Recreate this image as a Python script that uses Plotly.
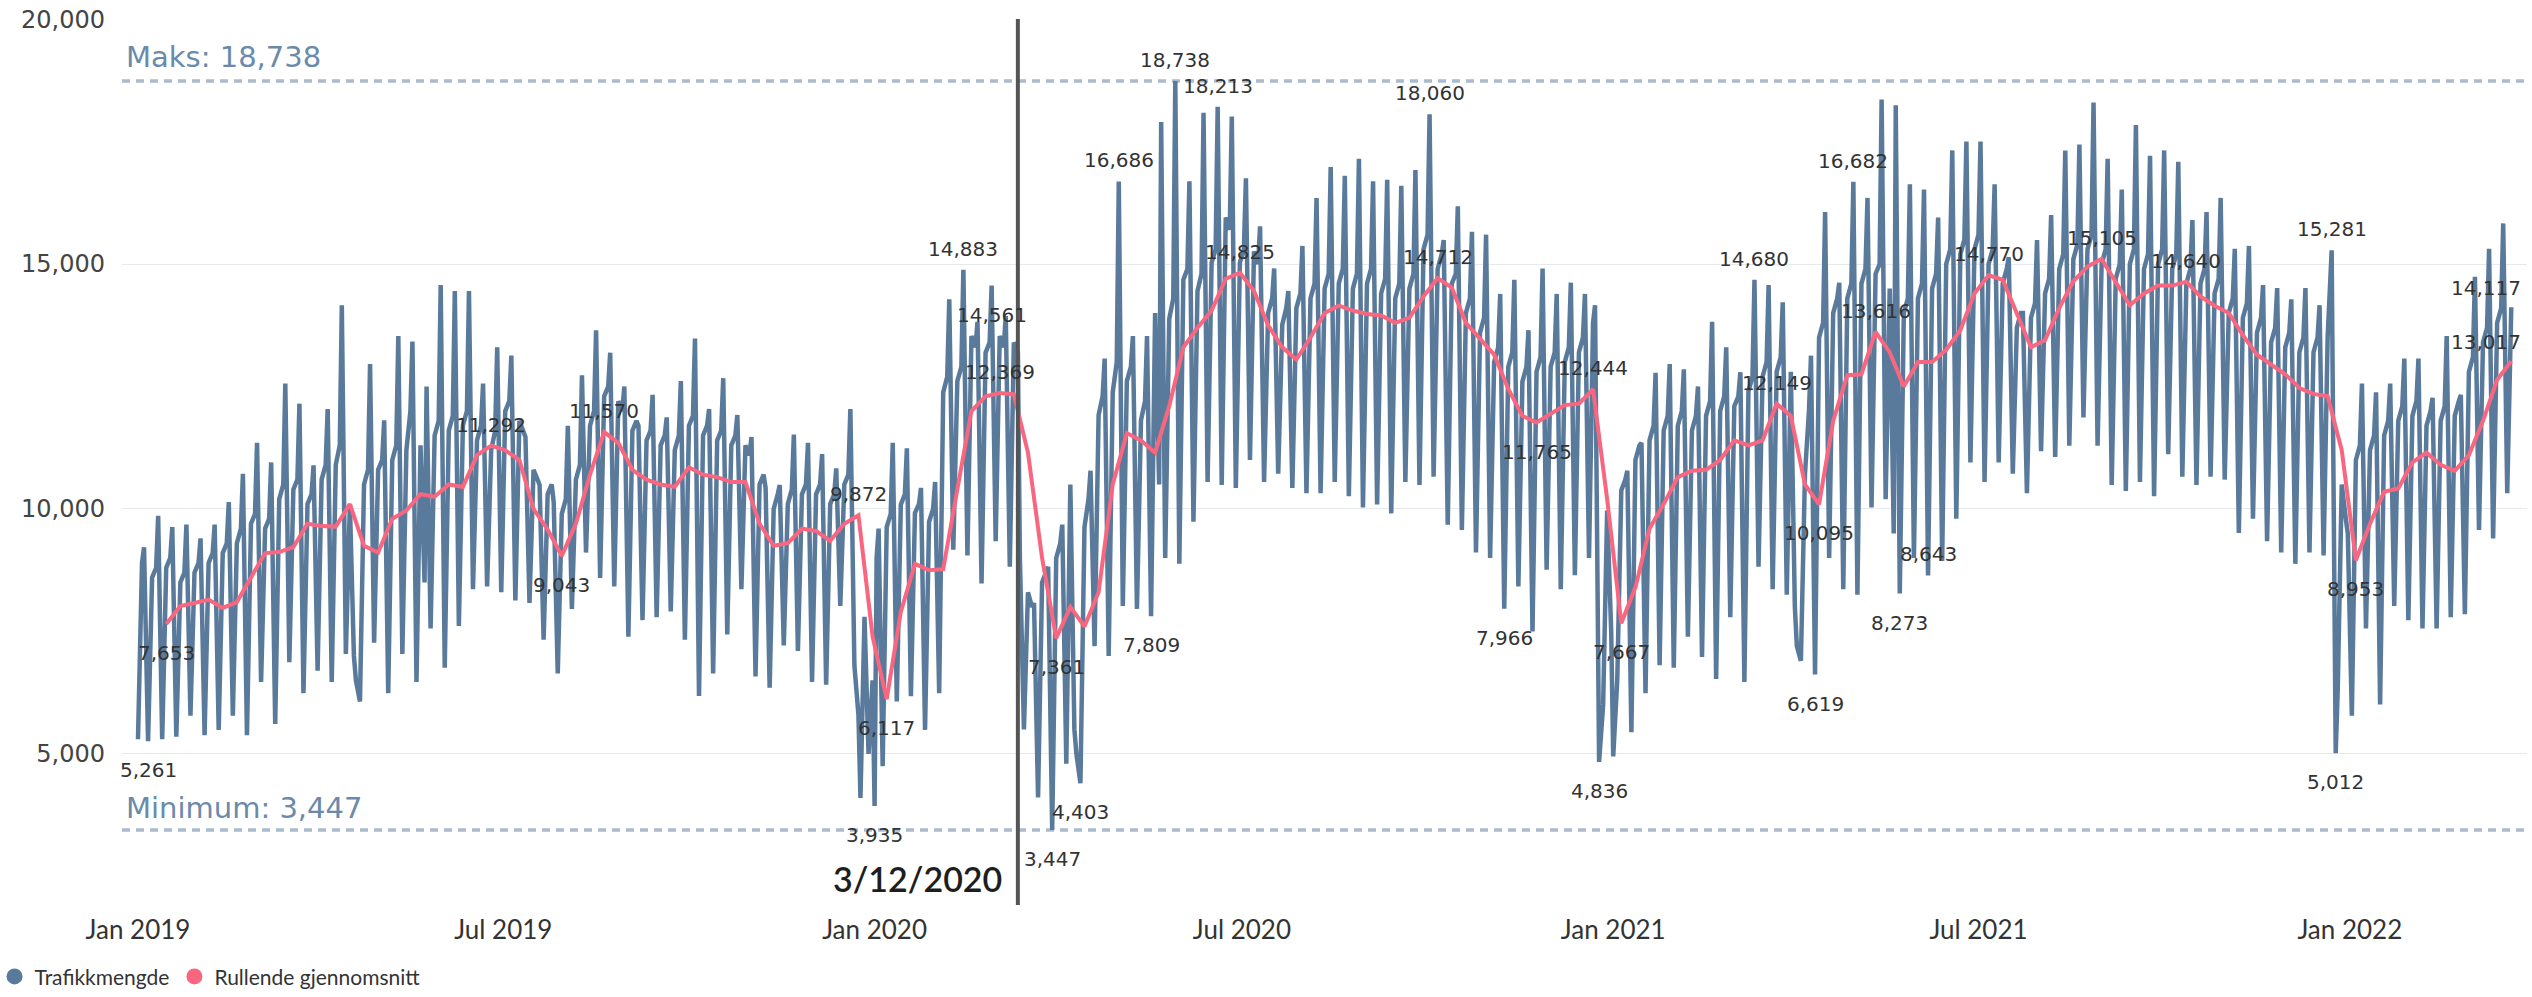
import pandas as pd
import plotly.graph_objects as go

# Ukentlige trafikkmålinger (uke 0 starter mandag 31.12.2018)
# hverdag = tirsdag, torsdag = torsdag, topp = fredag, bunn = søndag
hverdag = [
    5300, 8600, 8800, 8500, 8700, 8900, 9100, 9300, 9700, 9600,
    10200, 10400, 10100, 10600, 10900, 10100, 10500, 10800, 11000, 11200,
    11300, 11500, 11600, 11700, 11400, 11200, 12000, 11800, 10800, 10300,
    9900, 10600, 11700, 12300, 12200, 11600, 11400, 11300, 11200, 11700,
    11500, 11400, 11300, 11300, 10500, 10000, 10100, 10300, 10300, 10100,
    10500, 5800, 6500, 9630, 10090, 9920, 9740, 12380, 12610, 13530,
    13190, 13530, 13400, 8300, 8500, 9000, 10500, 9630, 11920, 12380,
    12610, 11810, 14000, 13880, 14680, 14450, 15030, 15950, 15030, 15260,
    14000, 13760, 14100, 14300, 14500, 14600, 14500, 14600, 14400, 14300,
    14500, 15300, 14900, 14600, 14000, 13600, 13000, 12900, 12600, 12800,
    12900, 13000, 13200, 13800, 9970, 10380, 11000, 11400, 11600, 11700,
    11600, 11900, 12000, 12100, 12400, 12700, 12800, 12800, 10700, 13500,
    14000, 14300, 14600, 14800, 14500, 14000, 14300, 14500, 15000, 15200,
    15300, 15000, 14600, 13700, 13900, 14400, 14900, 15100, 15300, 15000,
    14700, 15000, 14900, 15000, 14900, 14600, 14600, 14400, 14000, 13900,
    13600, 13400, 13300, 13200, 13200, 13500, 10500, 11000, 11200, 11500,
    11800, 11900, 11700, 11800, 11900, 12800, 13400, 13800, 14117,
]
torsdag = [
    8900, 8800, 9000, 8700, 8900, 9100, 9300, 9600, 9900, 9800,
    10500, 10600, 10300, 10900, 11300, 7000, 10800, 11000, 11300, 12000,
    8500, 11800, 11900, 12000, 11700, 11600, 12200, 11600, 10600, 10500,
    10200, 10900, 12000, 12500, 12000, 11800, 11600, 11500, 11500, 11900,
    11700, 11600, 11500, 11100, 10700, 10300, 10400, 10500, 10500, 10300,
    10700, 6000, 9000, 9900, 10300, 10100, 10000, 12700, 12900, 13300,
    13400, 13300, 13200, 8000, 8700, 9300, 5500, 10200, 12300, 13000,
    12900, 12200, 10500, 14300, 14900, 14800, 15300, 15700, 15300, 15000,
    14300, 14100, 14400, 14600, 14800, 14900, 14800, 14900, 14700, 14600,
    14800, 15600, 15200, 14800, 14300, 13900, 13300, 13200, 12900, 13100,
    13200, 13300, 13500, 8000, 7500, 10600, 11300, 11700, 11900, 12000,
    11900, 12200, 12300, 12300, 12700, 13000, 13100, 8000, 12000, 13800,
    14300, 14600, 14900, 15000, 9500, 14300, 14600, 14800, 15300, 15500,
    15600, 15300, 14900, 14000, 14200, 14700, 15200, 15400, 15600, 15300,
    15000, 15300, 15200, 15300, 15200, 14900, 14900, 14700, 14300, 14200,
    13900, 13700, 13600, 13500, 13500, 15281, 9800, 11300, 11500, 11800,
    12100, 12200, 12000, 12100, 12200, 13100, 13700, 14100,
]
topp = [
    9220, 9860, 9630, 9680, 9400, 9680, 10140, 10720, 11350, 10950,
    12560, 12150, 10890, 12040, 14160, 6500, 12960, 11810, 13530, 13420,
    12500, 14570, 14450, 14450, 12560, 13300, 13130, 11470, 10490, 10140,
    11700, 12730, 13650, 13190, 12500, 11700, 12330, 11870, 12610, 13480,
    12040, 12670, 11920, 11470, 10430, 10490, 11520, 11350, 11120, 10830,
    12040, 7800, 9600, 11350, 11240, 10430, 10550, 14280, 14883, 13820,
    14561, 13940, 9000, 8080, 8820, 9680, 5000, 10780, 13070, 16686,
    13530, 13530, 17900, 18738, 16690, 18090, 18213, 18010, 16750, 15770,
    14910, 14450, 15370, 16350, 16980, 16800, 17150, 16690, 16720, 16600,
    16920, 18060, 15490, 16180, 15660, 15600, 14390, 14680, 13650, 14910,
    14390, 14620, 14390, 4836, 4950, 10780, 11350, 12780, 12960, 12850,
    12500, 13820, 13300, 12790, 14680, 14570, 14220, 7200, 13130, 16060,
    14620, 16682, 16350, 18360, 18240, 16630, 16520, 15950, 17320, 17500,
    17500, 16630, 15140, 14000, 15490, 16000, 17320, 17440, 18300, 17150,
    16520, 17840, 17210, 17320, 17090, 15900, 16060, 16350, 15310, 15370,
    14570, 14510, 14280, 14510, 14160, 8500, 9500, 12560, 12380, 12560,
    13070, 13070, 12270, 13530, 12330, 14740, 15310, 15830,
]
bunn = [
    5261, 5300, 5350, 5780, 5380, 5490, 5780, 5380, 6470, 5610,
    6870, 6240, 6700, 6470, 7040, 6070, 7270, 6240, 7040, 6470,
    7560, 6760, 7610, 8360, 8420, 8300, 8130, 8080, 7330, 6640,
    7960, 9110, 8590, 8420, 7390, 7730, 7790, 7910, 7330, 6180,
    6640, 7440, 8360, 6580, 6350, 7215, 7100, 6470, 6410, 8020,
    6800, 5000, 4750, 6070, 6180, 5490, 6240, 9170, 9050, 8480,
    9340, 8820, 5500, 4110, 3447, 4800, 4403, 7200, 7000, 8020,
    7960, 7809, 9000, 8880, 9740, 10550, 10490, 10430, 11000, 10550,
    10720, 10430, 10320, 10320, 10550, 10260, 10030, 10090, 9910, 10550,
    10490, 10660, 9680, 9570, 9110, 9000, 7966, 8420, 7500, 8760,
    8360, 8650, 9000, 6000, 6500, 5440, 6240, 6810, 6760, 7390,
    6980, 6530, 7790, 6470, 8820, 8360, 8250, 6900, 6619, 9000,
    8360, 8250, 10030, 10200, 8273, 9000, 8643, 8940, 9800, 10950,
    10550, 10950, 10720, 10320, 11180, 11060, 11290, 11870, 11290, 10490,
    10370, 10550, 10260, 11120, 10660, 10490, 10660, 10600, 9510, 9800,
    9340, 9110, 8880, 9110, 9050, 6300, 5780, 7560, 6010, 8020,
    7730, 7560, 7560, 7790, 7850, 9570, 9400, 10320,
]
# Helligdager som faller utenfor ukemønsteret
spesielle_dager = {
    "2019-12-25": 4100,
    "2020-01-01": 3935,
    "2020-12-23": 14160,
    "2021-12-25": 5012,
}
# Rullende gjennomsnitt, tirsdager fra uke 2 til uke 168
rullende = [
    7653, 8020, 8080, 8150, 7980, 8100, 8600, 9100, 9120, 9220,
    9700, 9650, 9640, 10100, 9250, 9110, 9800, 9970, 10300, 10250,
    10500, 10450, 11100, 11292, 11200, 11000, 10000, 9580, 9043, 9700,
    10700, 11570, 11350, 10800, 10600, 10500, 10450, 10850, 10700, 10650,
    10550, 10550, 9700, 9250, 9300, 9600, 9550, 9350, 9700, 9872,
    7400, 6117, 7900, 8880, 8750, 8770, 10400, 12000, 12300, 12369,
    12340, 11150, 9000, 7361, 8000, 7600, 8300, 10500, 11550, 11400,
    11150, 12100, 13300, 13700, 14050, 14700, 14825, 14450, 13750, 13300,
    13050, 13500, 14000, 14150, 14050, 13980, 13950, 13800, 13900, 14340,
    14712, 14520, 13800, 13470, 13150, 12450, 11900, 11765, 11950, 12120,
    12150, 12444, 10200, 7667, 8400, 9600, 10100, 10650, 10780, 10800,
    11000, 11400, 11300, 11400, 12149, 11900, 10500, 10095, 11800, 12730,
    12750, 13616, 13200, 12500, 13000, 13000, 13250, 13650, 14400, 14770,
    14680, 14000, 13300, 13450, 14100, 14650, 14950, 15105, 14650, 14160,
    14400, 14560, 14560, 14640, 14340, 14150, 14000, 13550, 13150, 12950,
    12750, 12470, 12350, 12300, 11200, 8953, 9700, 10350, 10420, 10950,
    11150, 10900, 10780, 11100, 11800, 12640, 13017,
]
rullende_forste_uke = 2

# Verdier som får etikett: (serie, uke eller dato, plassering)
etiketter_trafikk = [
    ("bunn", 0, "under"), ("dag", "2020-01-01", "under"), ("topp", 58, "over"),
    ("topp", 60, "under"), ("bunn", 64, "under"), ("bunn", 66, "under"),
    ("topp", 69, "over"), ("bunn", 71, "under"), ("topp", 73, "over"),
    ("topp", 76, "over"), ("topp", 91, "over"), ("bunn", 96, "under"),
    ("topp", 103, "under"), ("topp", 114, "over"), ("bunn", 118, "under"),
    ("topp", 121, "over"), ("bunn", 124, "under"), ("bunn", 126, "over"),
    ("torsdag", 155, "over"), ("dag", "2021-12-25", "under"),
    ("hverdag", 168, "slutt"),
]
etiketter_snitt = [
    (2, "under"), (25, "over"), (30, "under"), (33, "over"), (51, "over"),
    (53, "under"), (61, "over"), (65, "under"), (78, "over"), (92, "over"),
    (99, "under"), (103, "over"), (105, "under"), (116, "over"), (119, "under"),
    (123, "over"), (131, "over"), (139, "over"), (145, "over"), (157, "under"),
    (168, "slutt"),
]

BLA = "#5a7a9c"
ROSA = "#f8667f"
REF_LINJE = "#a9bbcc"
REF_TEKST = "#6b8aab"

uke0 = pd.Timestamp("2018-12-31")


def dato(uke, ukedag):
    return uke0 + pd.Timedelta(days=7 * uke + ukedag)


serier = {"hverdag": (hverdag, 1), "torsdag": (torsdag, 3), "topp": (topp, 4), "bunn": (bunn, 6)}

punkter = []
for verdier, ukedag in serier.values():
    for u, v in enumerate(verdier):
        punkter.append((dato(u, ukedag), v))
for d, v in spesielle_dager.items():
    punkter.append((pd.Timestamp(d), v))
trafikk = pd.DataFrame(punkter, columns=["dato", "verdi"]).sort_values("dato")

snitt = pd.DataFrame({
    "dato": [dato(rullende_forste_uke + i, 1) for i in range(len(rullende))],
    "verdi": rullende,
})

maks = int(trafikk["verdi"].max())
minimum = int(trafikk["verdi"].min())

fig = go.Figure()
fig.add_trace(go.Scatter(
    x=trafikk["dato"], y=trafikk["verdi"], mode="lines",
    line=dict(color=BLA, width=4.5), showlegend=False, name="Trafikkmengde",
))
fig.add_trace(go.Scatter(
    x=snitt["dato"], y=snitt["verdi"], mode="lines",
    line=dict(color=ROSA, width=4), showlegend=False, name="Rullende gjennomsnitt",
))
# Tegnforklaring med runde symboler
for navn, farge in [("Trafikkmengde", BLA), ("Rullende gjennomsnitt", ROSA)]:
    fig.add_trace(go.Scatter(
        x=[None], y=[None], mode="markers", name=navn,
        marker=dict(color=farge, size=17, symbol="circle"),
    ))

# Referanselinjer for maks og minimum
for verdi in (maks, minimum):
    fig.add_shape(type="line", xref="paper", x0=0, x1=1, y0=verdi, y1=verdi,
                  line=dict(color=REF_LINJE, width=3.5, dash="8px,6px"), layer="below")
fig.add_annotation(xref="paper", x=0, xanchor="left", xshift=2, y=maks,
                   yanchor="middle", yshift=24, showarrow=False,
                   text=f"Maks: {maks:,}", font=dict(family="DejaVu Sans", size=29, color=REF_TEKST))
fig.add_annotation(xref="paper", x=0, xanchor="left", xshift=2, y=minimum,
                   yanchor="middle", yshift=22, showarrow=False,
                   text=f"Minimum: {minimum:,}", font=dict(family="DejaVu Sans", size=29, color=REF_TEKST))

# Markering av nedstengningen
nedstengning = "2020-03-12"
fig.add_shape(type="line", x0=nedstengning, x1=nedstengning, yref="paper", y0=0, y1=1,
              line=dict(color="#555555", width=4))
ned = pd.Timestamp(nedstengning)
fig.add_annotation(x=nedstengning, y=2450, xanchor="right", yanchor="middle", xshift=-14,
                   showarrow=False, text=f"{ned.month}/{ned.day}/{ned.year}",
                   font=dict(family="Lato", size=34, color="#1e1e1e", weight=600))

etikett_font = dict(family="DejaVu Sans", size=20, color="#333333")


def etikett(x, y, plass):
    kw = dict(x=x, y=y, text=f"{int(y):,}", showarrow=False, font=etikett_font,
              xanchor="center", yanchor="middle")
    if plass == "over":
        kw["yshift"] = 21
    elif plass == "under":
        kw["yshift"] = -29
    else:
        kw["yshift"] = 19
        kw["xshift"] = -25
    fig.add_annotation(**kw)


for serie, nokkel, plass in etiketter_trafikk:
    if serie == "dag":
        etikett(pd.Timestamp(nokkel), spesielle_dager[nokkel], plass)
    else:
        verdier, ukedag = serier[serie]
        etikett(dato(nokkel, ukedag), verdier[nokkel], plass)
for uke, plass in etiketter_snitt:
    etikett(dato(uke, 1), rullende[uke - rullende_forste_uke], plass)

x_ticks = ["2019-01-01", "2019-07-01", "2020-01-01", "2020-07-01",
           "2021-01-01", "2021-07-01", "2022-01-01"]
x_tekst = [pd.Timestamp(t).strftime("%b %Y") for t in x_ticks]

fig.update_layout(
    width=2532, height=997,
    margin=dict(l=122, r=5, t=19, b=92, autoexpand=False),
    paper_bgcolor="white", plot_bgcolor="white",
    xaxis=dict(
        type="date", range=["2018-12-24 02:00", "2022-03-29 19:00"],
        tickvals=x_ticks, ticktext=x_tekst, showgrid=False, zeroline=False,
        showline=False, ticks="", ticklabelstandoff=7, automargin=False,
        tickfont=dict(family="Lato", size=26, color="#333333"),
    ),
    yaxis=dict(
        range=[1915, 20003], tickvals=[5000, 10000, 15000, 20000],
        tickformat=",", showgrid=True, gridcolor="#e6e9ee", gridwidth=1,
        zeroline=False, showline=False, ticks="", ticklabelstandoff=16,
        automargin=False,
        tickfont=dict(family="DejaVu Sans", size=24, color="#444444"),
    ),
    legend=dict(
        orientation="h", x=-0.053, xanchor="left", y=-0.081, yanchor="middle",
        font=dict(family="Lato", size=21, color="#333333"),
        itemwidth=30, tracegroupgap=0, bgcolor="rgba(0,0,0,0)",
    ),
)

fig.write_html("out.html")
